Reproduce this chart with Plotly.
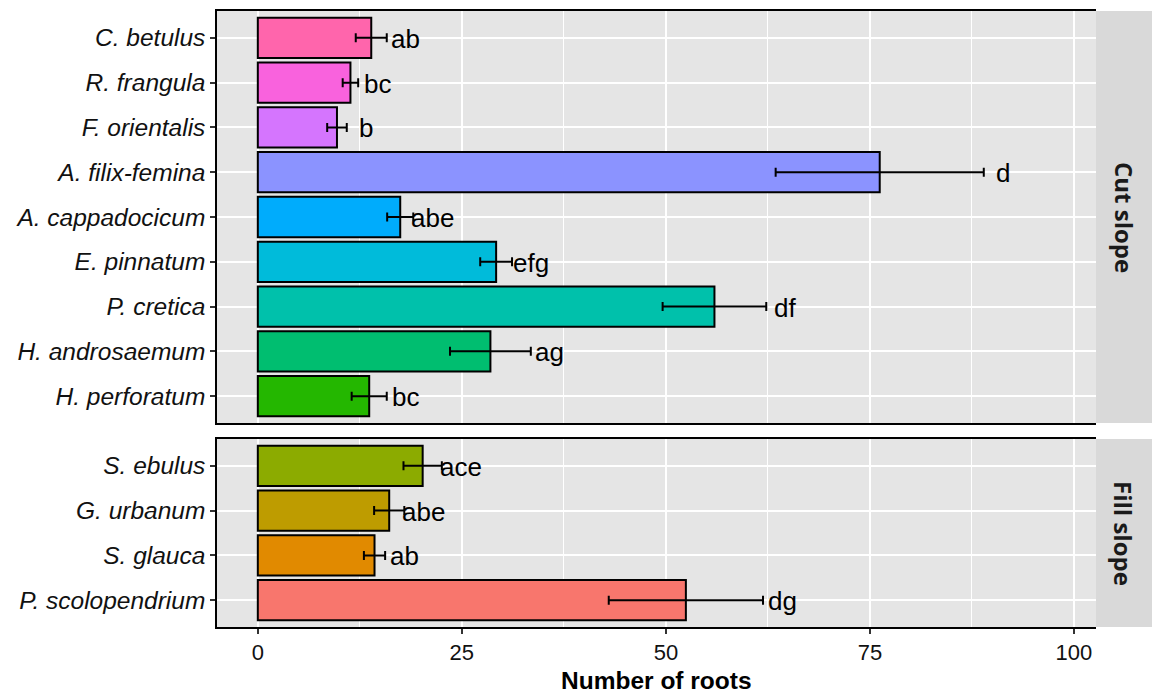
import plotly.graph_objects as go

# ---- data ----
cut_species = ["C. betulus", "R. frangula", "F. orientalis", "A. filix-femina",
               "A. cappadocicum", "E. pinnatum", "P. cretica", "H. androsaemum",
               "H. perforatum"]
cut_mean = [13.9, 11.35, 9.7, 76.2, 17.45, 29.2, 55.95, 28.5, 13.65]
cut_se = [1.9, 0.95, 1.2, 12.75, 1.6, 1.95, 6.35, 4.95, 2.15]
cut_letters = ["ab", "bc", "b", "d", "abe", "efg", "df", "ag", "bc"]
cut_colors = ["#FF65AC", "#F962DD", "#D575FE", "#8B93FF", "#00ACFC",
              "#00BBDA", "#00C1AB", "#00BE70", "#24B700"]

fill_species = ["S. ebulus", "G. urbanum", "S. glauca", "P. scolopendrium"]
fill_mean = [20.2, 16.1, 14.3, 52.45]
fill_se = [2.35, 1.85, 1.3, 9.45]
fill_letters = ["ace", "abe", "ab", "dg"]
fill_colors = ["#8CAB00", "#BE9C00", "#E18A00", "#F8766D"]

facet_labels = ["Cut slope", "Fill slope"]
x_ticks = [0, 25, 50, 75, 100]
x_minor = [12.5, 37.5, 62.5, 87.5]
x_title = "Number of roots"
label_offset = 2.35

# ---- layout geometry ----
W, H = 1152, 693
ML, MR, MT, MB = 217, 56, 11, 66
PW = W - ML - MR
PH = H - MT - MB
top_dom = [1 - (423 - MT) / PH, 1.0]
bot_dom = [0.0, (627 - 439) / PH]

PANEL_BG = "#E5E5E5"
STRIP_BG = "#D9D9D9"
SANS = "Liberation Sans, Arial, sans-serif"

fig = go.Figure()

def add_panel(species, mean, se, letters, colors, xa, ya):
    fig.add_trace(go.Bar(
        y=species, x=mean, orientation="h", width=0.9,
        marker=dict(color=colors, line=dict(color="black", width=2)),
        error_x=dict(type="data", array=se, color="black", thickness=2, width=4.5),
        xaxis=xa, yaxis=ya, showlegend=False, hoverinfo="skip"))
    for sp, m, s, lt in zip(species, mean, se, letters):
        fig.add_annotation(x=m + s + label_offset, y=sp, xref=xa, yref=ya,
                           text=lt, showarrow=False, xanchor="center",
                           yanchor="middle", yshift=-1,
                           font=dict(family=SANS, size=26, color="black"))

add_panel(cut_species, cut_mean, cut_se, cut_letters, cut_colors, "x", "y")
add_panel(fill_species, fill_mean, fill_se, fill_letters, fill_colors, "x2", "y2")

xcommon = dict(range=[-5.0, 102.7], showgrid=True, gridcolor="white", gridwidth=1.6,
               tickvals=x_ticks, zeroline=False, showline=True, linecolor="black",
               linewidth=1.5, mirror=True,
               minor=dict(showgrid=True, gridcolor="white", gridwidth=0.7,
                          tickvals=x_minor))
ycommon = dict(type="category", showgrid=True, gridcolor="white", gridwidth=1.6,
               showline=True, linecolor="black", linewidth=1.5,
               ticks="outside", ticklen=5, tickwidth=1.5, tickcolor="#333333",
               tickfont=dict(family=SANS, size=24.5, color="#111111"),
               zeroline=False)

fig.update_layout(
    width=W, height=H,
    margin=dict(l=ML, r=MR, t=MT, b=MB, autoexpand=False),
    paper_bgcolor="white", plot_bgcolor=PANEL_BG,
    xaxis=dict(**xcommon, domain=[0, 1], anchor="y", showticklabels=False, ticks=""),
    yaxis=dict(**ycommon, domain=top_dom, anchor="x",
               categoryarray=cut_species, categoryorder="array",
               range=[len(cut_species) - 0.4, -0.6],
               tickvals=cut_species, ticktext=[f"<i>{s}</i>" for s in cut_species]),
    xaxis2=dict(**xcommon, domain=[0, 1], anchor="y2", ticks="outside", ticklen=5,
                tickwidth=1.5, tickcolor="#333333",
                tickfont=dict(family=SANS, size=22, color="#111111")),
    yaxis2=dict(**ycommon, domain=bot_dom, anchor="x2",
                categoryarray=fill_species, categoryorder="array",
                range=[len(fill_species) - 0.4, -0.6],
                tickvals=fill_species, ticktext=[f"<i>{s}</i>" for s in fill_species]),
)

# x-axis title
fig.add_annotation(xref="paper", yref="paper", x=0.5, y=-54 / PH,
                   text=f"<b>{x_title}</b>", showarrow=False,
                   xanchor="center", yanchor="middle",
                   font=dict(family=SANS, size=24.5, color="black"))

# panel backgrounds
for dom in (top_dom, bot_dom):
    fig.add_shape(type="rect", xref="paper", yref="paper", x0=0, x1=1,
                  y0=dom[0], y1=dom[1], fillcolor=PANEL_BG, line=dict(width=0),
                  layer="below")

# facet strips
strip_w = MR / PW
for dom, lab in zip((top_dom, bot_dom), facet_labels):
    fig.add_shape(type="rect", xref="paper", yref="paper", x0=1, x1=1 + strip_w,
                  y0=dom[0], y1=dom[1], fillcolor=STRIP_BG, line=dict(width=0))
    fig.add_annotation(xref="paper", yref="paper", x=1 + strip_w / 2,
                       y=(dom[0] + dom[1]) / 2, text=f"<b>{lab}</b>", textangle=90,
                       showarrow=False, xanchor="center", yanchor="middle",
                       font=dict(family="Open Sans, Liberation Sans", size=24,
                                 color="#1A1A1A"))

fig.write_html("out.html",
               config={"displayModeBar": False},
               post_script="document.body.style.margin='0px';"
                           "document.body.style.overflow='hidden';")
